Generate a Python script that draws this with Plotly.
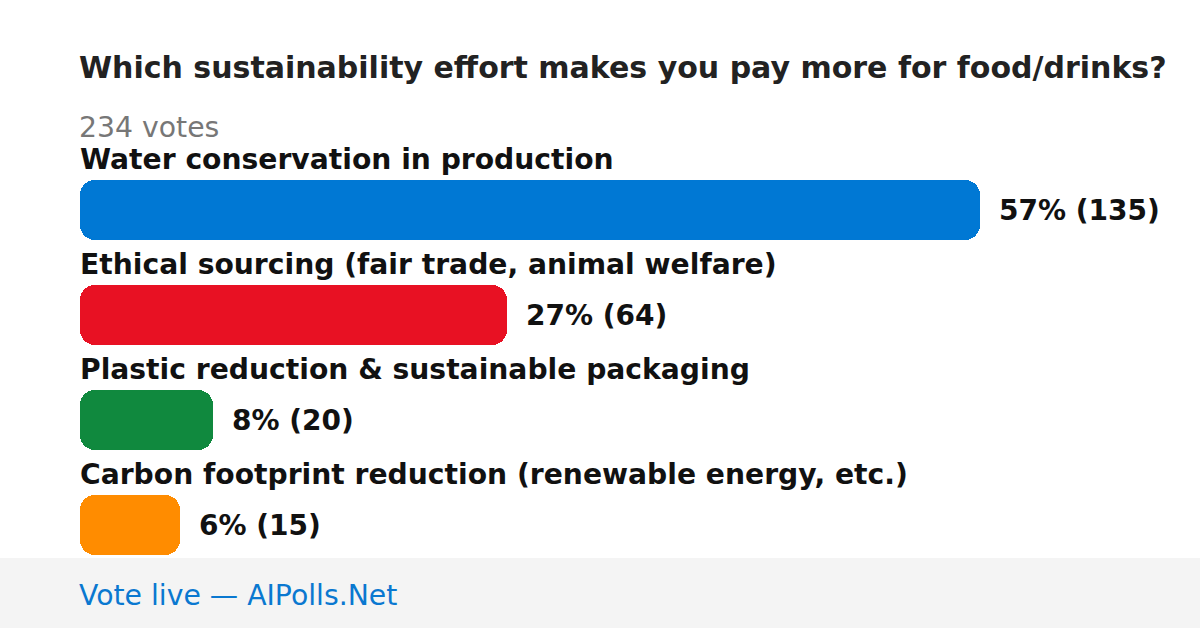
import plotly.graph_objects as go

title = "Which sustainability effort makes you pay more for food/drinks?"
subtitle = "234 votes"
footer = "Vote live — AIPolls.Net"
categories = [
    "Water conservation in production",
    "Ethical sourcing (fair trade, animal welfare)",
    "Plastic reduction & sustainable packaging",
    "Carbon footprint reduction (renewable energy, etc.)",
]
votes = [135, 64, 20, 15]
percents = [57, 27, 8, 6]
colors = ["#0078d4", "#e81123", "#10893e", "#ff8c00"]

W, H = 1200, 628
ML = 80
FONT = "DejaVu Sans"

pos = list(range(len(categories)))
bw = 60 / 105

fig = go.Figure()
# An explicit base makes plotly round both ends of each bar
fig.add_trace(go.Bar(
    x=votes, base=[0] * len(votes), y=pos, orientation="h",
    marker=dict(color=colors, cornerradius=15, line=dict(width=0)),
    width=bw, hoverinfo="skip", showlegend=False,
))

# x scale: 135 votes -> 900 px
xmax = max(votes) * (W - ML) / 900
# y scale: 105 px per category, first bar centered at y=210
px_per = 105
ytop = -210 / px_per
ybot = ytop + H / px_per

annotations = []
for i, (c, v, p) in enumerate(zip(categories, votes, percents)):
    annotations.append(dict(
        x=0, y=i, xref="x", yref="y", text=f"<b>{c}</b>", showarrow=False,
        xanchor="left", yanchor="middle", yshift=51, xshift=-2,
        font=dict(family=FONT, size=28.2, color="#111111"),
    ))
    annotations.append(dict(
        x=v, y=i, xref="x", yref="y", text=f"<b>{p}% ({v})</b>", showarrow=False,
        xanchor="left", yanchor="middle", xshift=17,
        font=dict(family=FONT, size=28, color="#111111"),
    ))

annotations.append(dict(
    x=0, y=1 - 68 / H, xref="paper", yref="paper", text=f"<b>{title}</b>",
    showarrow=False, xanchor="left", yanchor="middle", xshift=-3,
    font=dict(family=FONT, size=30, color="#222222"),
))
annotations.append(dict(
    x=0, y=1 - 127 / H, xref="paper", yref="paper", text=subtitle,
    showarrow=False, xanchor="left", yanchor="middle", xshift=-3,
    font=dict(family=FONT, size=28.3, color="#777777"),
))
annotations.append(dict(
    x=0, y=33 / H, xref="paper", yref="paper", text=footer,
    showarrow=False, xanchor="left", yanchor="middle", xshift=-3,
    font=dict(family=FONT, size=28.3, color="#0a78d0"),
))

fig.update_layout(
    width=W, height=H,
    margin=dict(l=ML, r=0, t=0, b=0),
    paper_bgcolor="white", plot_bgcolor="white",
    xaxis=dict(range=[0, xmax], visible=False, fixedrange=True),
    yaxis=dict(range=[ybot, ytop], visible=False, fixedrange=True),
    annotations=annotations,
    shapes=[dict(
        type="rect", xref="paper", yref="paper",
        x0=-ML / (W - ML), x1=1, y0=0, y1=70 / H,
        fillcolor="#f4f4f4", line=dict(width=0), layer="below",
    )],
    bargap=0,
)

fig.write_html(
    "out.html",
    config={"displayModeBar": False},
    post_script="document.body.style.margin='0px';document.body.style.overflow='hidden';",
)
